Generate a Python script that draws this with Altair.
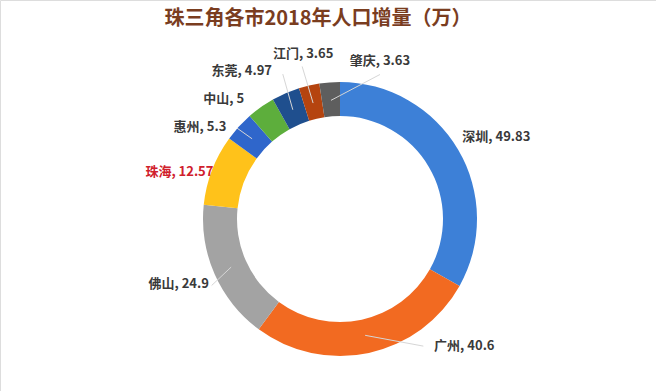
import math
import altair as alt
import pandas as pd

# ---- data ----
cities = ["深圳", "广州", "佛山", "珠海", "惠州", "中山", "东莞", "江门", "肇庆"]
values = [49.83, 40.6, 24.9, 12.57, 5.3, 5, 4.97, 3.65, 3.63]
value_labels = ["49.83", "40.6", "24.9", "12.57", "5.3", "5", "4.97", "3.65", "3.63"]

# ---- styles / layout ----
slice_colors = ["#3D80D7", "#F26A21", "#A3A3A3", "#FFC21A", "#2F66CB",
                "#5DAE3C", "#1F4F8E", "#B5440F", "#5E5E5E"]
label_colors = {c: "#3A3A3A" for c in cities}
label_colors["珠海"] = "#D0202C"
# label nudges (pixels) relative to the slice mid-angle anchor
label_nudge = {
    "深圳": (8, 5), "广州": (88, -41), "佛山": (-4, -4), "珠海": (0, 15),
    "惠州": (-13, 24), "中山": (-17, 20), "东莞": (-30, 10), "江门": (2, 3),
    "肇庆": (53, 14),
}
# leader line end, relative to the label centre
leader_end = {
    "广州": (-41, 0), "佛山": (33, 1), "惠州": (37, 1),
    "东莞": (41, 3), "江门": (-1, 12), "肇庆": (0, 13),
}
CX, CY = 340, 219
R_IN, R_OUT, R_LABEL, R_LEAD = 103, 137, 172, 119
FONT = "Noto Sans CJK SC"

df = pd.DataFrame({
    "city": cities,
    "value": values,
    "label": [f"{c}, {v}" for c, v in zip(cities, value_labels)],
    "idx": list(range(len(cities))),
})
base = alt.Chart(df)

arc = base.mark_arc(innerRadius=R_IN, outerRadius=R_OUT).encode(
    theta=alt.Theta("value:Q", stack=True),
    color=alt.Color("city:N", scale=alt.Scale(domain=cities, range=slice_colors), legend=None),
    order=alt.Order("idx:Q"),
    x=alt.value(CX),
    y=alt.value(CY),
)


def with_mid(ch):
    return (
        ch.transform_window(cum="sum(value)", sort=[alt.SortField("idx")])
        .transform_joinaggregate(total="sum(value)")
        .transform_calculate(mid="datum.cum - datum.value / 2")
        .transform_calculate(ang="datum.mid / datum.total * 2 * PI")
    )


layers = [arc]

for c, (ex, ey) in leader_end.items():
    dx, dy = label_nudge[c]
    rule = (
        with_mid(base)
        .transform_filter(alt.datum.city == c)
        .transform_calculate(
            x1=f"{CX} + {R_LEAD} * sin(datum.ang)",
            y1=f"{CY} - {R_LEAD} * cos(datum.ang)",
            x2=f"{CX} + {R_LABEL} * sin(datum.ang) + {dx + ex}",
            y2=f"{CY} - {R_LABEL} * cos(datum.ang) + {dy + ey}",
        )
        .mark_rule(color="#D6D6D6", strokeWidth=1)
        .encode(
            x=alt.X("x1:Q", scale=None), x2="x2:Q",
            y=alt.Y("y1:Q", scale=None), y2="y2:Q",
        )
    )
    layers.append(rule)

for c in cities:
    dx, dy = label_nudge[c]
    t = (
        with_mid(base)
        .transform_filter(alt.datum.city == c)
        .mark_text(font=FONT, fontSize=13, fontWeight="bold", color=label_colors[c],
                   align="center", baseline="middle", dx=dx, dy=dy)
        .encode(
            theta=alt.Theta("mid:Q"),
            radius=alt.value(R_LABEL),
            text="label:N",
            x=alt.value(CX),
            y=alt.value(CY),
        )
    )
    layers.append(t)

chart = alt.layer(*layers).properties(
    width=656, height=391,
    title=alt.Title("珠三角各市2018年人口增量（万）", font=FONT, fontSize=20,
                    fontWeight="bold", color="#7A3D1F", anchor="middle",
                    frame="group", offset=-29, dx=-10),
    autosize=alt.AutoSizeParams(type="none"),
    padding=0,
).configure_view(stroke=None).configure(background="white")

chart.save("out.html", embed_options={"renderer": "svg", "actions": False})
